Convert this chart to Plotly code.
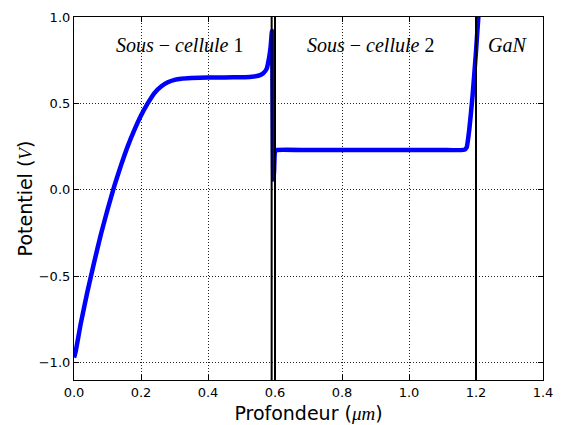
import plotly.graph_objects as go

# Blue potential curve
depth_um = [0.000, 0.005, 0.020, 0.040, 0.060, 0.080, 0.100, 0.120, 0.140, 0.160,
            0.180, 0.200, 0.220, 0.240, 0.260, 0.280, 0.300, 0.320, 0.350, 0.400,
            0.450, 0.500, 0.530, 0.550, 0.565, 0.575, 0.582, 0.587, 0.591, 0.593,
            0.595, 0.597, 0.600, 0.605, 0.700, 0.800, 0.900, 1.000, 1.100, 1.165,
            1.172, 1.180, 1.190, 1.200, 1.207, 1.212]
potential_v = [-0.970, -0.935, -0.775, -0.590, -0.420, -0.260, -0.115, 0.020, 0.140, 0.250,
               0.345, 0.430, 0.500, 0.560, 0.598, 0.622, 0.636, 0.643, 0.647, 0.650,
               0.650, 0.652, 0.655, 0.660, 0.675, 0.700, 0.760, 0.830, 0.920, 0.500,
               0.060, 0.100, 0.220, 0.230, 0.230, 0.230, 0.230, 0.230, 0.230, 0.232,
               0.245, 0.350, 0.550, 0.800, 1.000, 1.100]

# Vertical boundary lines
boundaries_um = [0.59, 0.60, 1.20]

# Region labels
region_labels = ["<i>Sous</i> − <i>cellule</i> 1", "<i>Sous</i> − <i>cellule</i> 2", "<i>GaN</i>"]
region_x = [0.316, 0.884, 1.293]
region_y = [0.84, 0.84, 0.84]

x_ticks = [0.0, 0.2, 0.4, 0.6, 0.8, 1.0, 1.2, 1.4]
y_ticks = [-1.0, -0.5, 0.0, 0.5, 1.0]

fig = go.Figure()
fig.add_trace(go.Scatter(x=depth_um, y=potential_v, mode="lines",
                         line=dict(color="#0000ff", width=4.5, shape="spline", smoothing=0.4),
                         showlegend=False, cliponaxis=True))

for b in boundaries_um:
    fig.add_shape(type="line", x0=b, x1=b, y0=0, y1=1, xref="x", yref="paper",
                  line=dict(color="black", width=2), layer="above")

for t, x, y in zip(region_labels, region_x, region_y):
    fig.add_annotation(x=x, y=y, text=t, showarrow=False,
                       font=dict(family="Liberation Serif, DejaVu Serif, serif", size=20, color="black"))

axis_common = dict(showline=True, linecolor="black", linewidth=1.2, mirror="allticks",
                   ticks="inside", ticklen=5, tickcolor="black", tickwidth=1,
                   showgrid=True, gridcolor="#222222", griddash="1px,2px", gridwidth=1,
                   zeroline=False, automargin=False,
                   tickfont=dict(family="DejaVu Sans", size=13, color="black"))

fig.update_xaxes(range=[0, 1.4], tickvals=x_ticks,
                 ticktext=[f"{v:.1f}" for v in x_ticks],
                 title=dict(text="Profondeur (<span style='font-family:Liberation Serif'><i>μm</i></span>)",
                            font=dict(family="DejaVu Sans", size=19, color="black"), standoff=7),
                 **axis_common)
fig.update_yaxes(range=[-1.1, 1.0], tickvals=y_ticks,
                 ticktext=[f"{v:.1f}".replace("-", "−") for v in y_ticks],
                 title=dict(text="Potentiel (<span style='font-family:Liberation Serif'><i>V</i></span>)",
                            font=dict(family="DejaVu Sans", size=19, color="black"), standoff=1),
                 **axis_common)

# The page body adds an 8px offset, so the figure is sized to fit inside the window
fig.update_layout(width=555, height=417, paper_bgcolor="white", plot_bgcolor="white",
                  margin=dict(l=66, r=20, t=9, b=45), showlegend=False)

fig.write_html("out.html")
